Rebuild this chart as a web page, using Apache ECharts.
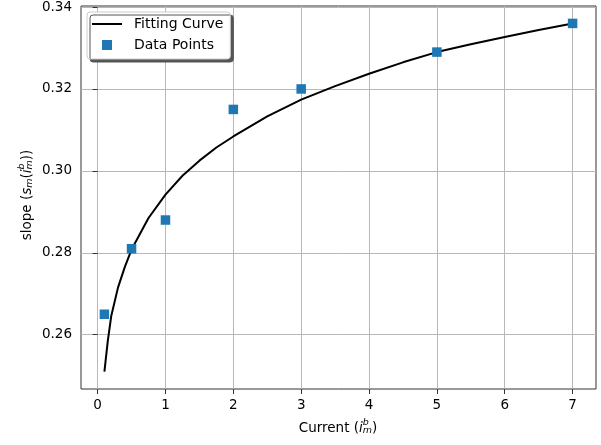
<!DOCTYPE html>
<html>
<head>
<meta charset="utf-8">
<script src="https://cdn.jsdelivr.net/npm/echarts@6/dist/echarts.min.js"></script>
<style>
  html, body { margin: 0; padding: 0; background: #fff; }
  #chart { width: 601px; height: 445px; }
</style>
</head>
<body>
<div id="chart"></div>
<script>
// values
const xTicks = [0, 1, 2, 3, 4, 5, 6, 7]
const yTicks = [0.26, 0.28, 0.30, 0.32, 0.34]

const curveX = [0.1, 0.15, 0.2, 0.3, 0.4, 0.5, 0.75, 1, 1.25, 1.5, 1.75, 2, 2.5, 3, 3.5, 4, 4.5, 5, 5.5, 6, 6.5, 7]
const curveY = [0.2510, 0.2585, 0.2645, 0.2715, 0.2765, 0.2808, 0.2885, 0.2942, 0.2988, 0.3025, 0.3057, 0.3084,
  0.3133, 0.3174, 0.3207, 0.3237, 0.3265, 0.3290, 0.3309, 0.3327, 0.3344, 0.3360]

const pointX = [0.1, 0.5, 1, 2, 3, 5, 7]
const pointY = [0.265, 0.281, 0.288, 0.315, 0.320, 0.329, 0.336]

const FONT = 'DejaVu Sans'
const ctx = document.createElement('canvas').getContext('2d')

// builds a little mathtext-like label out of text pieces
function mathLabel(pieces, x, y, rotation) {
  let cx = 0
  const children = []
  pieces.forEach(function(p) {
    const font = (p.italic ? 'italic ' : '') + p.size + 'px "' + FONT + '"'
    ctx.font = font
    const w = ctx.measureText(p.t).width
    children.push({
      type: 'text',
      x: cx,
      y: p.dy || 0,
      style: { text: p.t, font: font, fill: '#000', verticalAlign: 'middle', textVerticalAlign: 'middle' }
    })
    if (!p.stack) cx += w
  })
  children.forEach(function(c) { c.x -= cx / 2 })
  return { type: 'group', x: x, y: y, rotation: rotation || 0, children: children }
}

const xName = mathLabel([
  { t: 'Current (', size: 13.5 },
  { t: 'i', size: 13.5, italic: true },
  { t: 'b', size: 9.5, italic: true, dy: -5, stack: true },
  { t: 'm', size: 9.5, italic: true, dy: 3 },
  { t: ')', size: 13.5 }
], 338, 428)

const yName = mathLabel([
  { t: 'slope (', size: 13.5 },
  { t: 's', size: 13.5, italic: true },
  { t: 'm', size: 9.5, italic: true, dy: 3 },
  { t: '(', size: 13.5 },
  { t: 'i', size: 13.5, italic: true },
  { t: 'b', size: 9.5, italic: true, dy: -5, stack: true },
  { t: 'm', size: 9.5, italic: true, dy: 3 },
  { t: '))', size: 13.5 }
], 27, 195, Math.PI / 2)

const chart = echarts.init(document.getElementById('chart'), null, { renderer: 'canvas' })

chart.setOption({
  animation: false,
  grid: {
    left: 81,
    right: 5,
    top: 6,
    bottom: 56,
    show: true,
    borderColor: '#333',
    borderWidth: 1
  },
  legend: {
    left: 87,
    top: 12,
    orient: 'vertical',
    itemWidth: 30,
    itemHeight: 10,
    itemGap: 7,
    padding: [5, 7, 7, 5],
    backgroundColor: '#fff',
    borderColor: '#ccc',
    borderWidth: 1,
    borderRadius: 3,
    shadowColor: '#555',
    shadowBlur: 0,
    shadowOffsetX: 3,
    shadowOffsetY: 3,
    symbolKeepAspect: true,
    textStyle: { fontFamily: FONT, fontSize: 14, color: '#000', padding: [0, 0, 0, 7], lineHeight: 14 },
    data: [
      { name: 'Fitting Curve', icon: 'path://M0,0 L30,0 L30,2 L0,2 Z' },
      { name: 'Data Points', icon: 'path://M0,0 L1,0 L1,1 L0,1 Z' }
    ]
  },
  xAxis: {
    type: 'value',
    min: -0.245,
    max: 7.345,
    axisLine: { show: false },
    axisTick: { show: true, length: 5, lineStyle: { color: '#333' }, customValues: xTicks },
    axisLabel: { customValues: xTicks, fontFamily: FONT, fontSize: 13.5, color: '#000', margin: 9 },
    splitLine: { show: true, lineStyle: { color: '#b8b8b8', width: 1 } }
  },
  yAxis: {
    type: 'value',
    min: 0.24675,
    max: 0.34025,
    axisLine: { show: false },
    axisTick: { show: true, length: 5, lineStyle: { color: '#333' }, customValues: yTicks },
    axisLabel: {
      customValues: yTicks,
      fontFamily: FONT,
      fontSize: 13.5,
      color: '#000',
      margin: 9,
      formatter: function(v) { return v.toFixed(2) }
    },
    splitLine: { show: true, lineStyle: { color: '#b8b8b8', width: 1 } }
  },
  graphic: [xName, yName],
  series: [
    {
      name: 'Fitting Curve',
      type: 'line',
      data: curveX.map(function(x, i) { return [x, curveY[i]] }),
      symbol: 'none',
      lineStyle: { color: '#000', width: 2, join: 'round' },
      itemStyle: { color: '#000' },
      z: 2
    },
    {
      name: 'Data Points',
      type: 'scatter',
      data: pointX.map(function(x, i) { return [x, pointY[i]] }),
      symbol: 'rect',
      symbolSize: 9.5,
      itemStyle: { color: '#1f77b4', opacity: 1 },
      z: 3
    }
  ]
})
</script>
</body>
</html>
